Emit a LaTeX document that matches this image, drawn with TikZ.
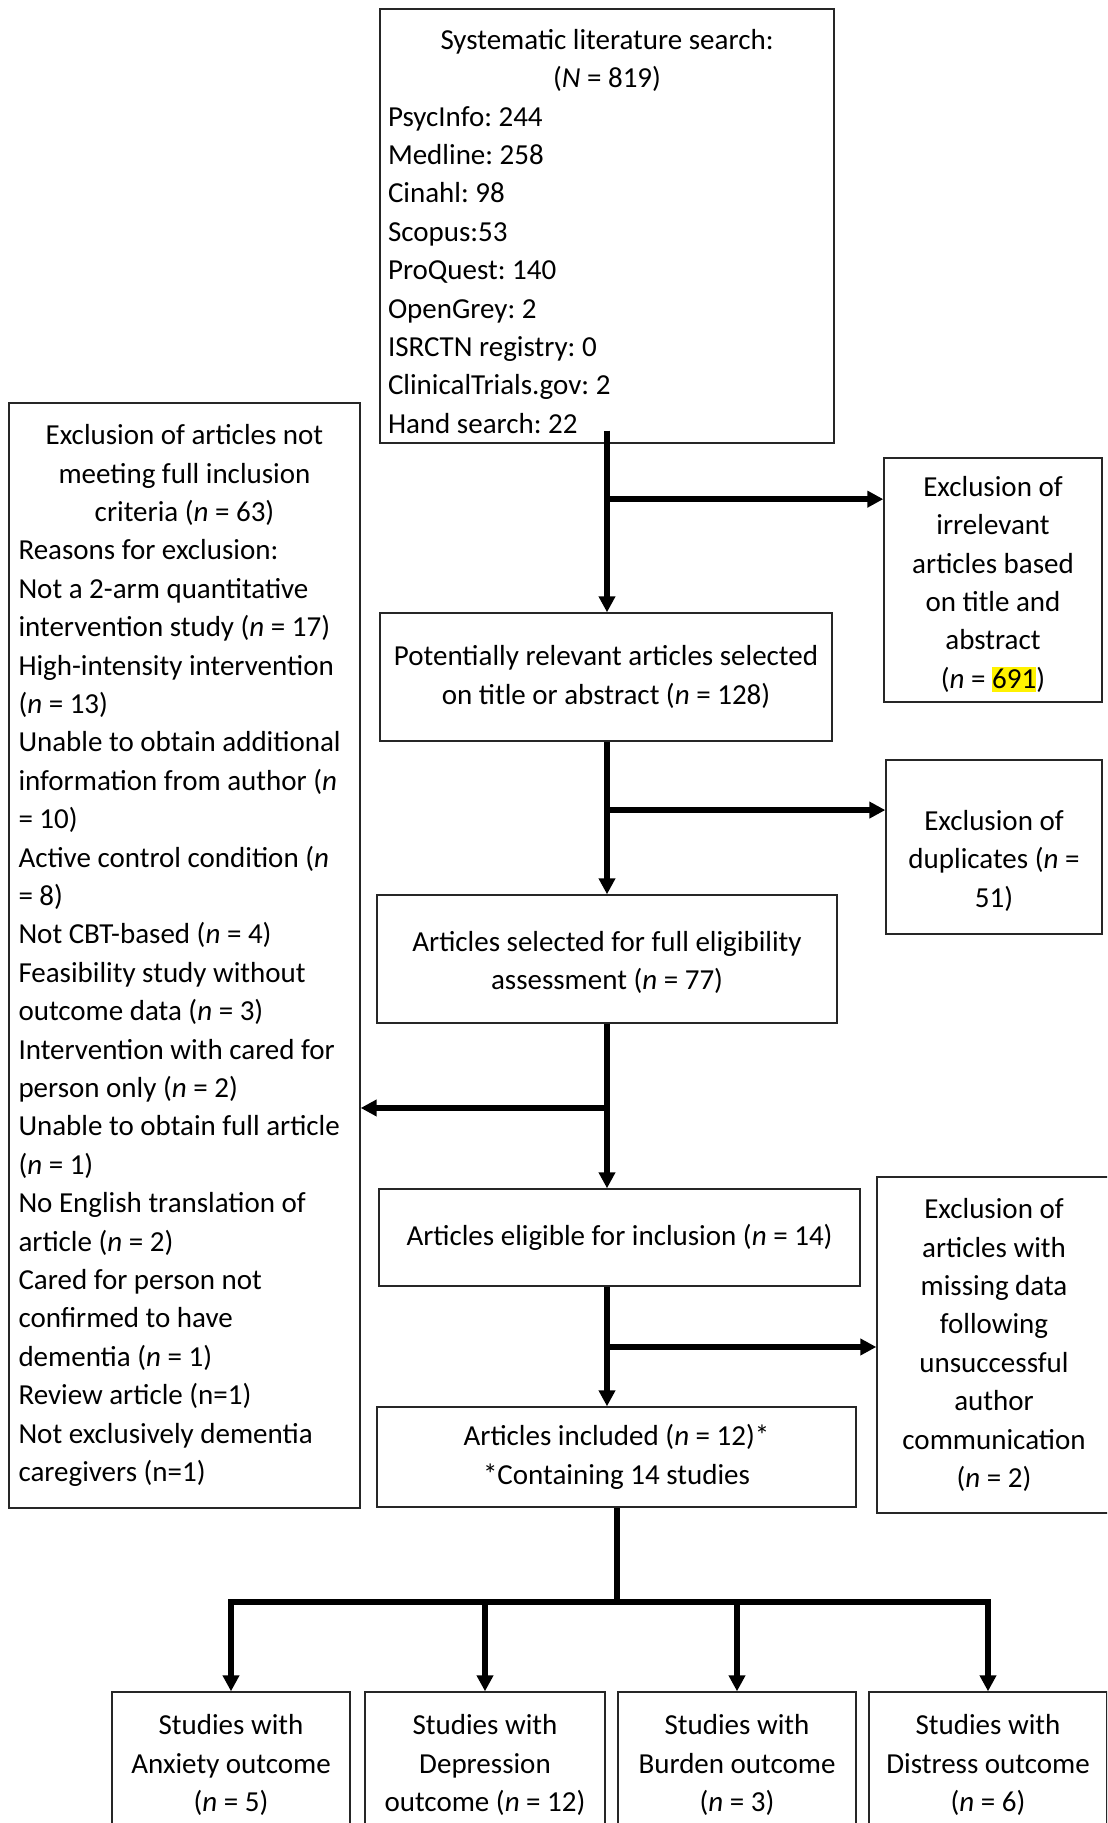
\documentclass[tikz,border=0pt]{standalone}
\usepackage{fontspec}
\setmainfont{Carlito}
\usetikzlibrary{arrows.meta,calc}
\newcommand{\nv}{\textit{n}}
\newcommand{\hl}[1]{{\setlength{\fboxsep}{0pt}\colorbox{yellow}{\vphantom{()}#1}}}
\newcommand{\topgap}[1]{\rule{0pt}{#1}}
\newcommand{\boxfont}{\fontsize{14.5}{19.2}\selectfont\frenchspacing}
\tikzset{
    flow box/.style = {
        draw = black!85,
        line width = 0.7pt,
        inner xsep = 0pt,
        inner ysep = 2pt,
        font = \boxfont,
        align = center,
        },
    list box/.style = {
        align = left,
        },
    flow arrow/.style = {
        line width = 2.8pt,
        -{Triangle[length=8pt,width=8pt]},
        },
    flow line/.style = {
        line width = 2.8pt,
        },
}
\begin{document}
\begin{tikzpicture}[x=0.5pt, y=-0.5pt]
    \useasboundingbox (0,0) rectangle (1107,1823);
    \clip (0,0) rectangle (1107,1823);

    % main column
    \node[flow box, list box, minimum width=227pt, minimum height=217pt] (search) at (607,226) {%
        \makebox[219pt][c]{\topgap{15.5pt}Systematic literature search:}\\ \makebox[219pt][c]{(\textit{N} = 819)}\\
        PsycInfo: 244\\ Medline: 258\\ Cinahl: 98\\ Scopus:53\\ ProQuest: 140\\
        OpenGrey: 2\\ ISRCTN registry: 0\\ ClinicalTrials.gov: 2\\ Hand search: 22};
    \node[flow box, minimum width=226pt, minimum height=64pt] (relevant) at (606,677)
        {Potentially relevant articles selected\\ on title or abstract (\nv{} = 128)};
    \node[flow box, minimum width=230pt, minimum height=64pt] (fullassess) at (607,959)
        {\topgap{13.8pt}Articles selected for full eligibility\\ assessment (\nv{} = 77)};
    \node[flow box, minimum width=240.5pt, minimum height=48.5pt] (eligible) at (619.5,1237.5)
        {Articles eligible for inclusion (\nv{} = 14)};
    \node[flow box, minimum width=239.5pt, minimum height=50pt] (included) at (616.5,1457)
        {Articles included (\nv{} = 12){*}\\ {*}Containing 14 studies};

    % exclusions
    \node[flow box, minimum width=109pt, minimum height=122pt] (irrelevant) at (993,580)
        {\topgap{14.3pt}Exclusion of\\ irrelevant\\ articles based\\ on title and\\ abstract\\ (\nv{} = \hl{691})};
    \node[flow box, minimum width=108pt, minimum height=87pt] (duplicates) at (994,847)
        {\topgap{23.7pt}Exclusion of\\ duplicates (\nv{} =\\ 51)};
    \node[flow box, minimum width=117pt, minimum height=168pt] (missing) at (994,1345)
        {Exclusion of\\ articles with\\ missing data\\ following\\ unsuccessful\\ author\\ communication\\ (\nv{} = 2)};
    \node[flow box, list box, minimum width=175.5pt, minimum height=552.5pt] (leftexcl) at (184.5,955.5) {%
        \makebox[166pt][c]{Exclusion of articles not}\\ \makebox[166pt][c]{meeting full inclusion}\\
        \makebox[166pt][c]{criteria (\nv{} = 63)}\\
        Reasons for exclusion:\\
        Not a 2-arm quantitative\\ intervention study (\nv{} = 17)\\
        High-intensity intervention\\ (\nv{} = 13)\\
        Unable to obtain additional\\ information from author (\nv\\ = 10)\\
        Active control condition (\nv\\ = 8)\\
        Not CBT-based (\nv{} = 4)\\
        Feasibility study without\\ outcome data (\nv{} = 3)\\
        Intervention with cared for\\ person only (\nv{} = 2)\\
        Unable to obtain full article\\ (\nv{} = 1)\\
        No English translation of\\ article (\nv{} = 2)\\
        Cared for person not\\ confirmed to have\\ dementia (\nv{} = 1)\\
        Review article (n=1)\\
        Not exclusively dementia\\ caregivers (n=1)};

    % outcomes
    \node[flow box, minimum width=119pt, minimum height=73pt] (anxiety) at (231,1765)
        {Studies with\\ Anxiety outcome\\ (\nv{} = 5)};
    \node[flow box, minimum width=120pt, minimum height=73pt] (depression) at (485,1765)
        {Studies with\\ Depression\\ outcome (\nv{} = 12)};
    \node[flow box, minimum width=119pt, minimum height=73pt] (burden) at (737,1765)
        {Studies with\\ Burden outcome\\ (\nv{} = 3)};
    \node[flow box, minimum width=119pt, minimum height=73pt] (distress) at (988,1765)
        {Studies with\\ Distress outcome\\ (\nv{} = 6)};

    \coordinate (col) at (607,0);
    \coordinate (bar) at (617,1602);

    \draw[flow arrow] ($(search.south -| col)+(0,-13)$) -- coordinate[pos=0.377] (s1) (relevant.north -| col);
    \draw[flow arrow] (s1) -- (s1 -| irrelevant.west);
    \draw[flow arrow] (relevant.south -| col) -- coordinate[pos=0.448] (s2) (fullassess.north -| col);
    \draw[flow arrow] (s2) -- (s2 -| duplicates.west);
    \draw[flow arrow] (fullassess.south -| col) -- coordinate[pos=0.512] (s3) (eligible.north -| col);
    \draw[flow arrow] (s3) -- (s3 -| leftexcl.east);
    \draw[flow arrow] (eligible.south -| col) -- coordinate[pos=0.504] (s4) (included.north -| col);
    \draw[flow arrow] (s4) -- (s4 -| missing.west);

    \draw[flow line] (included.south -| bar) -- (bar);
    \draw[flow line, line cap=rect] (bar -| anxiety.north) -- (bar -| distress.north);
    \foreach \b in {anxiety,depression,burden,distress}
        \draw[flow arrow] (bar -| \b.north) -- (\b.north);
\end{tikzpicture}
\end{document}
